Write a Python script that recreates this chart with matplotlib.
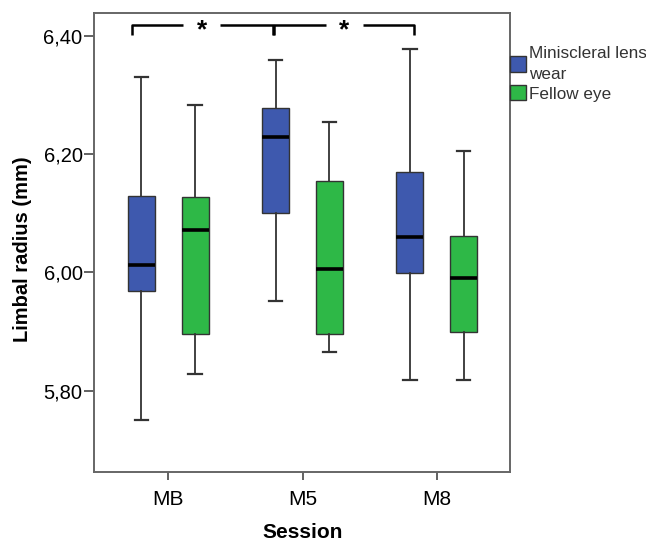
import numpy as np
import matplotlib
matplotlib.use("Agg")
import matplotlib.pyplot as plt
from matplotlib.patches import Patch

plt.rcParams['font.family'] = ['Liberation Sans', 'DejaVu Sans']

# Sessions and box statistics
sessions = ['MB', 'M5', 'M8']

# Miniscleral lens wear
lens_low = [5.750, 5.951, 5.818]
lens_q1 = [5.969, 6.100, 5.999]
lens_med = [6.012, 6.229, 6.059]
lens_q3 = [6.129, 6.278, 6.170]
lens_high = [6.330, 6.359, 6.377]

# Fellow eye
fellow_low = [5.828, 5.866, 5.818]
fellow_q1 = [5.896, 5.896, 5.900]
fellow_med = [6.071, 6.005, 5.990]
fellow_q3 = [6.127, 6.155, 6.061]
fellow_high = [6.283, 6.255, 6.206]

y_ticks = [5.80, 6.00, 6.20, 6.40]
y_tick_labels = ['5,80', '6,00', '6,20', '6,40']

blue = '#3e59ae'
green = '#2eb847'
edge = '#333333'


def make_stats(low, q1, med, q3, high):
    return [dict(whislo=a, q1=b, med=c, q3=d, whishi=e, fliers=[])
            for a, b, c, d, e in zip(low, q1, med, q3, high)]


fig = plt.figure(figsize=(6.46, 5.43), dpi=100)
ax = fig.add_axes([0.146, 0.1313, 0.6435, 0.8453])

x = np.arange(len(sessions))
groups = [
    (make_stats(lens_low, lens_q1, lens_med, lens_q3, lens_high), x - 0.2, blue),
    (make_stats(fellow_low, fellow_q1, fellow_med, fellow_q3, fellow_high), x + 0.2, green),
]
for stats, pos, col in groups:
    ax.bxp(stats, positions=pos, widths=0.2, capwidths=0.1, patch_artist=True,
           showfliers=False,
           boxprops=dict(facecolor=col, edgecolor=edge, linewidth=1.0),
           medianprops=dict(color='black', linewidth=2.6),
           whiskerprops=dict(color=edge, linewidth=1.3),
           capprops=dict(color=edge, linewidth=1.6))

# significance brackets (MB vs M5, M5 vs M8)
top, foot = 6.418, 6.4015
ax.plot([-0.273, -0.273, 0.112], [foot, top, top], color='black', lw=1.8, solid_capstyle='butt')
ax.plot([0.385, 0.778, 0.778], [top, top, foot], color='black', lw=1.8, solid_capstyle='butt')
ax.plot([0.790, 0.790, 1.175], [foot, top, top], color='black', lw=1.8, solid_capstyle='butt')
ax.plot([1.449, 1.831, 1.831], [top, top, foot], color='black', lw=1.8, solid_capstyle='butt')
ax.text(0.249, 6.397, '*', ha='center', va='baseline', fontsize=19, fontweight='bold')
ax.text(1.309, 6.397, '*', ha='center', va='baseline', fontsize=19, fontweight='bold')

ax.set_xlim(-0.551, 2.546)
ax.set_ylim(5.663, 6.439)
ax.set_xticks(x)
ax.set_xticklabels(sessions, fontsize=15)
ax.set_yticks(y_ticks)
ax.set_yticklabels(y_tick_labels, fontsize=14.5)
ax.tick_params(axis='both', colors='#555555', labelcolor='black', width=1.3)
ax.tick_params(axis='x', length=6, pad=7)
ax.tick_params(axis='y', length=7, pad=1.5)
for s in ax.spines.values():
    s.set_color('#666666')
    s.set_linewidth(1.4)

ax.set_xlabel('Session', fontsize=15, fontweight='bold')
ax.xaxis.set_label_coords(0.5, -0.112)
ax.set_ylabel('Limbal radius (mm)', fontsize=14.5, fontweight='bold')
ax.yaxis.set_label_coords(-0.151, 0.485)

handles = [Patch(facecolor=blue, edgecolor=edge, linewidth=1.0),
           Patch(facecolor=green, edgecolor=edge, linewidth=1.0)]
leg = ax.legend(handles, ['Miniscleral lens\nwear', 'Fellow eye'], loc='upper left',
                bbox_to_anchor=(1.0, 0.928), frameon=False, borderaxespad=0, borderpad=0,
                handlelength=0.95, handleheight=1.0, handletextpad=0.15,
                labelspacing=0.2, fontsize=12.3, labelcolor='#333333')
for t in leg.get_texts():
    t.set_linespacing(1.5)

fig.savefig('out.png', dpi=100)
